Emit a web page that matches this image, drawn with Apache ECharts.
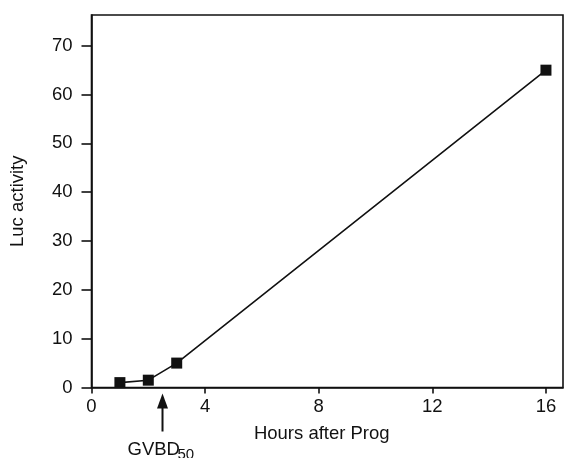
<!DOCTYPE html>
<html><head><meta charset="utf-8">
<script src="https://cdn.jsdelivr.net/npm/echarts@6/dist/echarts.min.js"></script>
<style>html,body{margin:0;padding:0;background:#fff}#c{width:565px;height:458px}</style>
</head><body><div id="c"></div>
<script>
var hours = [1, 2, 3, 16];
var lucActivity = [1, 1.5, 5, 65];
var xTicks = [0, 4, 8, 12, 16];
var yTicks = [0, 10, 20, 30, 40, 50, 60, 70];
var gvbdHour = [2.5];
var gvbdLabel = ['GVBD', '50'];

var FONT = '"Liberation Sans", Arial, Helvetica, sans-serif';
var INK = '#111111';
var chart = echarts.init(document.getElementById('c'), null, {renderer: 'canvas'});
var pts = hours.map(function (h, i) { return [h, lucActivity[i]]; });
chart.setOption({
  animation: false,
  backgroundColor: '#ffffff',
  grid: {left: 91.5, right: 2, top: 15, bottom: 70.5, show: true, borderColor: INK, borderWidth: 1.6, backgroundColor: 'transparent'},
  xAxis: {
    type: 'value', min: 0, max: 16.6,
    name: 'Hours after Prog', nameLocation: 'middle', nameGap: 37,
    nameTextStyle: {fontFamily: FONT, fontSize: 18.5, color: INK, padding: [0, 11, 0, 0]},
    axisLine: {show: true, onZero: false, lineStyle: {color: INK, width: 1.6}},
    axisTick: {show: true, inside: false, length: 6, customValues: xTicks, lineStyle: {color: INK, width: 1.6}},
    axisLabel: {fontFamily: FONT, fontSize: 18.5, color: INK, margin: 10, customValues: xTicks},
    splitLine: {show: false}
  },
  yAxis: {
    type: 'value', min: 0, max: 76.3,
    name: 'Luc activity', nameLocation: 'middle', nameGap: 64, nameRotate: 90,
    nameTextStyle: {fontFamily: FONT, fontSize: 18.5, color: INK},
    axisLine: {show: true, lineStyle: {color: INK, width: 1.6}},
    axisTick: {show: true, inside: false, length: 10, customValues: yTicks, lineStyle: {color: INK, width: 1.6}},
    axisLabel: {fontFamily: FONT, fontSize: 18.5, color: INK, margin: 19, customValues: yTicks},
    splitLine: {show: false}
  },
  series: [{
    type: 'line', data: pts,
    symbol: 'rect', symbolSize: 11,
    lineStyle: {color: INK, width: 1.6},
    itemStyle: {color: INK, borderWidth: 0}
  }]
});

var ax = chart.convertToPixel({xAxisIndex: 0}, gvbdHour[0]);
var ay = chart.convertToPixel({yAxisIndex: 0}, 0);
var tipY = ay + 6;
chart.setOption({
  graphic: [
    {type: 'line', shape: {x1: ax, y1: tipY + 10, x2: ax, y2: tipY + 38}, style: {stroke: INK, lineWidth: 2}, silent: true},
    {type: 'polygon', shape: {points: [[ax, tipY], [ax - 5.5, tipY + 15], [ax + 5.5, tipY + 15]]}, style: {fill: INK}, silent: true},
    {type: 'text', x: ax - 35, y: tipY + 47, style: {text: gvbdLabel[0], font: '18.5px ' + FONT, fill: INK, textAlign: 'left', textVerticalAlign: 'top'}, silent: true},
    {type: 'text', x: ax + 15, y: tipY + 54, style: {text: gvbdLabel[1], font: '15px ' + FONT, fill: INK, textAlign: 'left', textVerticalAlign: 'top'}, silent: true}
  ]
});
</script></body></html>
